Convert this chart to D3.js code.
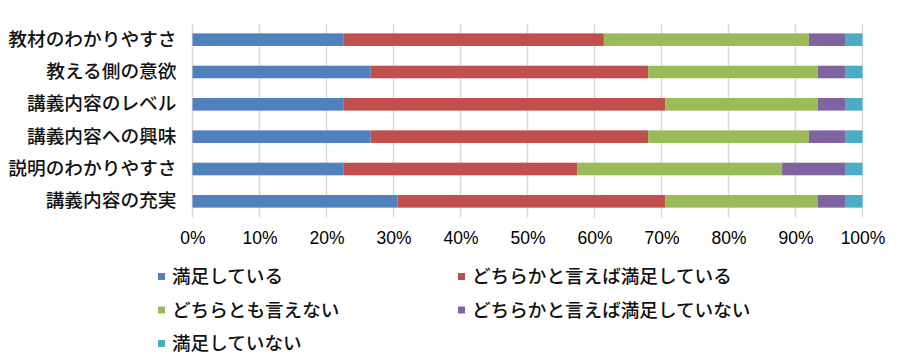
<!DOCTYPE html>
<html>
<head>
<meta charset="utf-8">
<script src="https://cdn.jsdelivr.net/npm/d3@7"></script>
<style>
  html, body { margin: 0; padding: 0; background: #fff; }
  svg { display: block; }
</style>
</head>
<body>
<div id="chart"></div>
<script>
const categories = ['教材のわかりやすさ', '教える側の意欲', '講義内容のレベル', '講義内容への興味', '説明のわかりやすさ', '講義内容の充実'];
const seriesNames = ['満足している', 'どちらかと言えば満足している', 'どちらとも言えない', 'どちらかと言えば満足していない', '満足していない'];
const seriesColors = ['#4f81bd', '#c0504d', '#9bbb59', '#8064a2', '#4bacc6'];

// percent share per category, one array per series
const satisfied =         [22.5, 26.6, 22.5, 26.6, 22.5, 30.6];
const ratherSatisfied =   [38.9, 41.4, 48.1, 41.4, 34.9, 40.0];
const neutral =           [30.6, 25.3, 22.7, 24.0, 30.6, 22.7];
const ratherUnsatisfied = [5.4, 4.1, 4.1, 5.4, 9.4, 4.1];
const unsatisfied =       [2.6, 2.6, 2.6, 2.6, 2.6, 2.6];
const tickValues = [0, 0.1, 0.2, 0.3, 0.4, 0.5, 0.6, 0.7, 0.8, 0.9, 1];

const seriesValues = [satisfied, ratherSatisfied, neutral, ratherUnsatisfied, unsatisfied];

const width = 899;
const height = 364;
const margin = { top: 23.5, right: 36.5, bottom: 146.5, left: 192.5 };

const svg = d3.select('#chart')
    .append('svg')
    .attr('width', width)
    .attr('height', height);

const rows = categories.map((c, i) => {
    const row = { cat: c };
    seriesNames.forEach((s, j) => { row[s] = seriesValues[j][i]; });
    return row;
});

// normalise each row to 100%
const stack = d3.stack().keys(seriesNames).offset(d3.stackOffsetExpand);
const stacked = stack(rows);

const x = d3.scaleLinear()
    .domain([0, 1])
    .range([margin.left, width - margin.right]);

const y = d3.scaleBand()
    .domain(categories)
    .range([margin.top, height - margin.bottom])
    .paddingInner(0.61)
    .paddingOuter(0.305);

// gridlines
svg.append('g')
    .selectAll('line')
    .data(tickValues)
    .join('line')
    .attr('x1', d => x(d))
    .attr('x2', d => x(d))
    .attr('y1', margin.top)
    .attr('y2', height - margin.bottom)
    .attr('stroke', '#d9d9d9')
    .attr('stroke-width', 1.5);

// bars
svg.append('g')
    .selectAll('g')
    .data(stacked)
    .join('g')
    .attr('fill', (d, i) => seriesColors[i])
    .selectAll('rect')
    .data(d => d)
    .join('rect')
    .attr('x', d => x(d[0]))
    .attr('y', d => y(d.data.cat))
    .attr('width', d => x(d[1]) - x(d[0]))
    .attr('height', y.bandwidth());

// x axis labels
const xAxis = svg.append('g')
    .attr('transform', `translate(0,${height - margin.bottom + 11})`)
    .call(d3.axisBottom(x).tickValues(tickValues).tickFormat(d3.format('.0%')).tickSize(0));
xAxis.select('.domain').remove();
xAxis.selectAll('text')
    .attr('dy', '0.71em')
    .style('font-family', '"Liberation Sans Narrow", "Arial Narrow", "Liberation Sans", sans-serif')
    .style('font-size', '17.5px')
    .attr('fill', '#000');

// y axis labels
const yAxis = svg.append('g')
    .attr('transform', `translate(${margin.left - 16},0)`)
    .call(d3.axisLeft(y).tickSize(0).tickPadding(0));
yAxis.select('.domain').remove();
yAxis.selectAll('text')
    .style('font-family', '"Noto Sans CJK JP", sans-serif')
    .style('font-size', '18.7px')
    .style('font-weight', 500)
    .attr('fill', '#111');

// legend
const legendX = [158, 458];
const legendY = [276.5, 310, 343.5];
const legend = svg.append('g')
    .selectAll('g')
    .data(seriesNames)
    .join('g')
    .attr('transform', (d, i) => `translate(${legendX[i % 2]},${legendY[Math.floor(i / 2)]})`);

legend.append('rect')
    .attr('x', 0)
    .attr('y', -3.5)
    .attr('width', 7)
    .attr('height', 7)
    .attr('fill', (d, i) => seriesColors[i]);

legend.append('text')
    .attr('x', 14)
    .attr('dy', '0.35em')
    .style('font-family', '"Noto Sans CJK JP", sans-serif')
    .style('font-size', '18.6px')
    .style('font-weight', 500)
    .attr('fill', '#111')
    .text(d => d);
</script>
</body>
</html>
